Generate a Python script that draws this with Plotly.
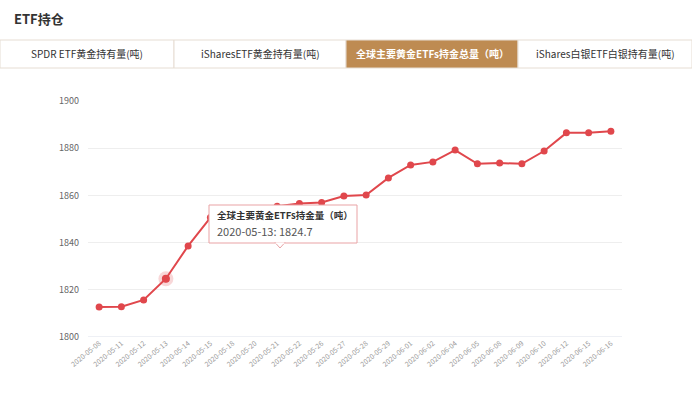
import plotly.graph_objects as go

title_text = "ETF持仓"
tab_labels = ["SPDR ETF黄金持有量(吨)", "iSharesETF黄金持有量(吨)", "全球主要黄金ETFs持金总量（吨）", "iShares白银ETF白银持有量(吨)"]
active_tab = 2
series_name = "全球主要黄金ETFs持金量（吨）"

dates = ["2020-05-08", "2020-05-11", "2020-05-12", "2020-05-13", "2020-05-14", "2020-05-15",
         "2020-05-18", "2020-05-20", "2020-05-21", "2020-05-22", "2020-05-26", "2020-05-27",
         "2020-05-28", "2020-05-29", "2020-06-01", "2020-06-02", "2020-06-04", "2020-06-05",
         "2020-06-08", "2020-06-09", "2020-06-10", "2020-06-12", "2020-06-15", "2020-06-16"]
holdings = [1812.7, 1812.8, 1815.7, 1824.7, 1838.6, 1850.6,
            1852.0, 1853.8, 1855.4, 1856.6, 1857.0, 1859.7,
            1860.2, 1867.4, 1872.9, 1874.2, 1879.2, 1873.4,
            1873.7, 1873.4, 1878.8, 1886.5, 1886.5, 1887.2]
y_ticks = [1800, 1820, 1840, 1860, 1880, 1900]
hover_date = "2020-05-13"

W, H = 692, 394
FONT = "Noto Sans CJK SC"
LINE = "#E0474C"
BROWN = "#BE8B52"

def px(x):
    return x / W

def py(y):
    return 1 - y / H

fig = go.Figure()
fig.add_trace(go.Scatter(
    x=dates, y=holdings, mode="lines+markers", name=series_name,
    line=dict(color=LINE, width=2),
    marker=dict(color=LINE, size=7),
    hoverinfo="skip", showlegend=False))

hi = dates.index(hover_date)
fig.add_trace(go.Scatter(
    x=[dates[hi]], y=[holdings[hi]], mode="markers",
    marker=dict(color="rgba(224,71,76,0.22)", size=15),
    hoverinfo="skip", showlegend=False))
fig.add_trace(go.Scatter(
    x=[dates[hi]], y=[holdings[hi]], mode="markers",
    marker=dict(color=LINE, size=8),
    hoverinfo="skip", showlegend=False))

shapes = []
annotations = []

# title
annotations.append(dict(text="<b>" + title_text + "</b>", x=px(12), y=py(18), xref="paper", yref="paper",
                        xanchor="left", yanchor="middle", showarrow=False,
                        font=dict(family=FONT, size=13, color="#333")))

# tabs
edges = [0, 174, 346, 518, 692]
for i, lab in enumerate(tab_labels):
    x0, x1 = edges[i], edges[i + 1]
    active = i == active_tab
    shapes.append(dict(type="rect", xref="paper", yref="paper",
                       x0=px(x0), x1=px(x1), y0=py(68), y1=py(40),
                       fillcolor=BROWN if active else "white",
                       line=dict(color="#E6DDD3", width=1), layer="below"))
    annotations.append(dict(text="<b>" + lab + "</b>" if active else lab,
                            x=px((x0 + x1) / 2), y=py(54), xref="paper", yref="paper",
                            xanchor="center", yanchor="middle", showarrow=False,
                            font=dict(family=FONT, size=10, color="white" if active else "#333")))

# tooltip
tx0, ty0, tx1, ty1 = 209, 205, 357, 243
shapes.append(dict(type="rect", xref="paper", yref="paper",
                   x0=px(tx0), x1=px(tx1), y0=py(ty1), y1=py(ty0),
                   fillcolor="white", line=dict(color="#E9A3A5", width=1), layer="above"))
shapes.append(dict(type="path", xref="paper", yref="paper",
                   path="M %f %f L %f %f L %f %f Z" % (px(275), py(242.5), px(280), py(248), px(285), py(242.5)),
                   fillcolor="white", line=dict(color="#E9A3A5", width=1), layer="above"))
shapes.append(dict(type="line", xref="paper", yref="paper",
                   x0=px(275.5), x1=px(284.5), y0=py(243), y1=py(243),
                   line=dict(color="white", width=1.5), layer="above"))
annotations.append(dict(
    text="<b>" + series_name + "</b>",
    x=px(215), y=py(215), xref="paper", yref="paper", xanchor="left", yanchor="middle",
    showarrow=False, font=dict(family=FONT, size=9.5, color="#333")))
annotations.append(dict(
    text=hover_date + ": " + str(holdings[hi]),
    x=px(215), y=py(231), xref="paper", yref="paper", xanchor="left", yanchor="middle",
    showarrow=False, font=dict(family=FONT, size=11, color="#555")))

fig.update_layout(
    width=W, height=H, margin=dict(l=0, r=0, t=0, b=0),
    paper_bgcolor="white", plot_bgcolor="white",
    font=dict(family=FONT),
    shapes=shapes, annotations=annotations,
    xaxis=dict(domain=[px(88), px(622)], type="category", tickangle=-40,
               range=[-0.5, len(dates) - 0.5],
               tickfont=dict(size=7, color="#999"), showgrid=False, zeroline=False,
               showline=False, ticks="", automargin=False),
    yaxis=dict(domain=[py(337), py(101)], range=[1800, 1900], tickvals=y_ticks,
               tickfont=dict(size=9, color="#666"), gridcolor="#EEEEEE", zeroline=False,
               showline=False, ticks="", ticklabelstandoff=8, automargin=False),
)
fig.add_hline(y=1800, line=dict(color="#DDE0EA", width=1), layer="below")

fig.write_html("out.html", config={"displayModeBar": False},
               post_script="document.body.style.margin='0';document.body.style.overflow='hidden';")
